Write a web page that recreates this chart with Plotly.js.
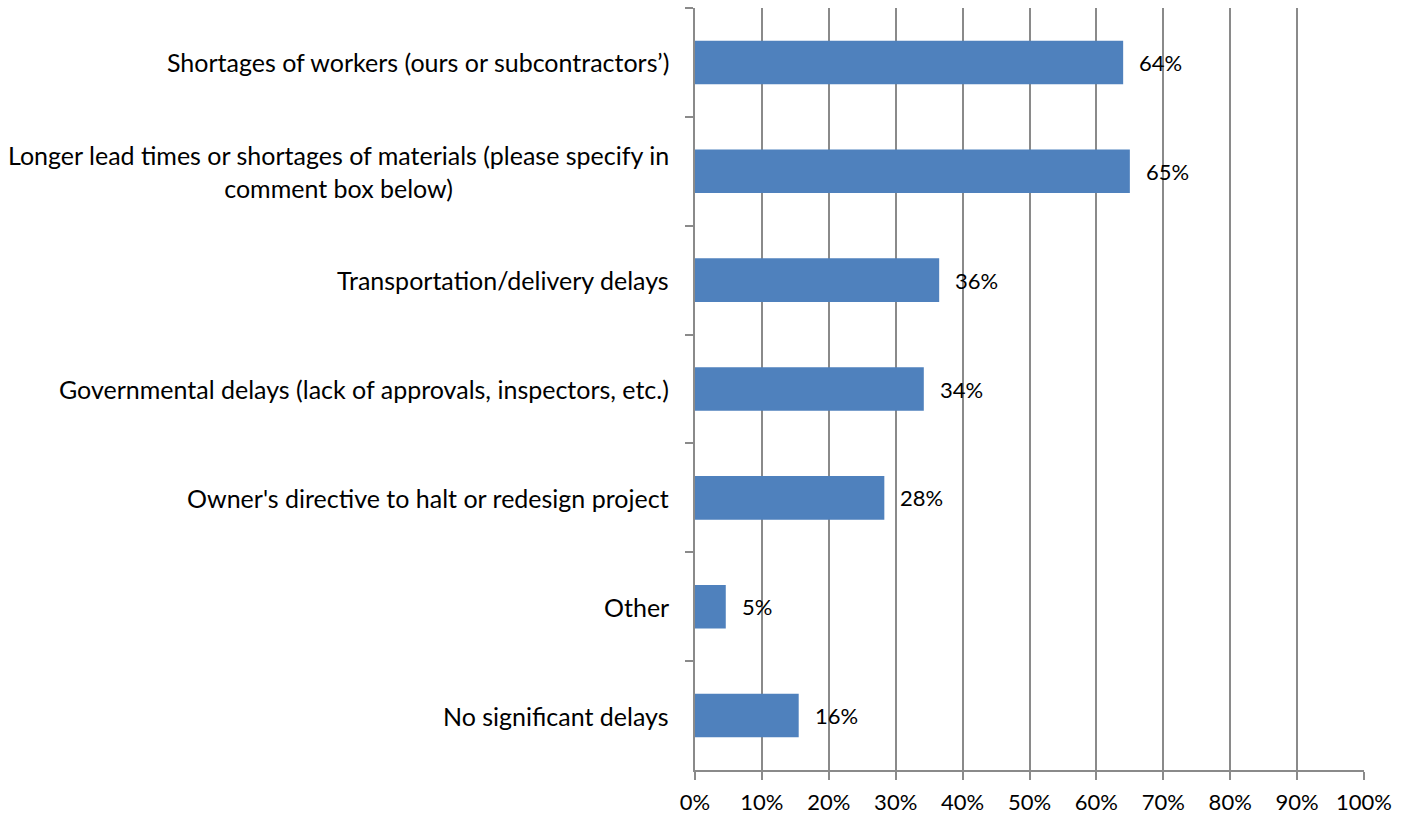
<!DOCTYPE html>
<html><head><meta charset="utf-8">
<script src="https://cdn.plot.ly/plotly-3.0.1.min.js"></script>
<style>html,body{margin:0;padding:0;background:#fff;}#chart{width:1410px;height:818px;}</style>
</head><body><div id="chart"></div>
<script>
var categories = [
  "Shortages of workers (ours or subcontractors’)",
  "Longer lead times or shortages of materials (please specify in<br>comment box below)",
  "Transportation/delivery delays",
  "Governmental delays (lack of approvals, inspectors, etc.)",
  "Owner's directive to halt or redesign project",
  "Other",
  "No significant delays"
];
var values = [0.64, 0.65, 0.365, 0.342, 0.283, 0.046, 0.155];
var labels = ["64%", "65%", "36%", "34%", "28%", "5%", "16%"];
var xTickVals = [0,0.1,0.2,0.3,0.4,0.5,0.6,0.7,0.8,0.9,1.0];
var xTickText = ["0%","10%","20%","30%","40%","50%","60%","70%","80%","90%","100%"];

var FONT = "Lato, 'Open Sans', sans-serif";
var ids = categories.map(function(c, i){ return "c" + i; });

var annotations = [];
categories.forEach(function(c, i){
  annotations.push({xref:'paper', yref:'y', x:0, y:ids[i], xanchor:'right', yanchor:'middle',
    xshift:-24, text:c, showarrow:false, align:'center', font:{family:FONT, size:25, color:'#000'}});
  annotations.push({xref:'x', yref:'y', x:values[i], y:ids[i], xanchor:'left', yanchor:'middle',
    xshift:14, text:labels[i], showarrow:false, font:{family:FONT, size:22, color:'#000'}});
});

var trace = {
  type:'bar', orientation:'h', x:values, y:ids,
  marker:{color:'#4F81BD', line:{width:0}},
  hoverinfo:'skip'
};

var layout = {
  width:1410, height:818,
  margin:{l:695, r:46, t:8, b:48},
  paper_bgcolor:'#fff', plot_bgcolor:'#fff',
  showlegend:false, bargap:0.6,
  font:{family:FONT, size:22, color:'#000'},
  xaxis:{range:[0,1], tickvals:xTickVals, ticktext:xTickText, showgrid:true,
    gridcolor:'#8a8a8a', gridwidth:2, showline:true, linecolor:'#8a8a8a', linewidth:2,
    ticks:'outside', ticklen:8, tickwidth:2, tickcolor:'#8a8a8a', zeroline:false,
    ticklabelstandoff:4,
    tickfont:{family:FONT, size:22, color:'#000'}, fixedrange:true},
  yaxis:{type:'category', autorange:'reversed', showticklabels:false, showgrid:false,
    showline:true, linecolor:'#8a8a8a', linewidth:2, ticks:'outside', ticklen:8,
    tickwidth:2, tickcolor:'#8a8a8a', tickson:'boundaries', zeroline:false, fixedrange:true},
  annotations:annotations
};

Plotly.newPlot('chart', [trace], layout, {staticPlot:true, displayModeBar:false});
</script></body></html>
